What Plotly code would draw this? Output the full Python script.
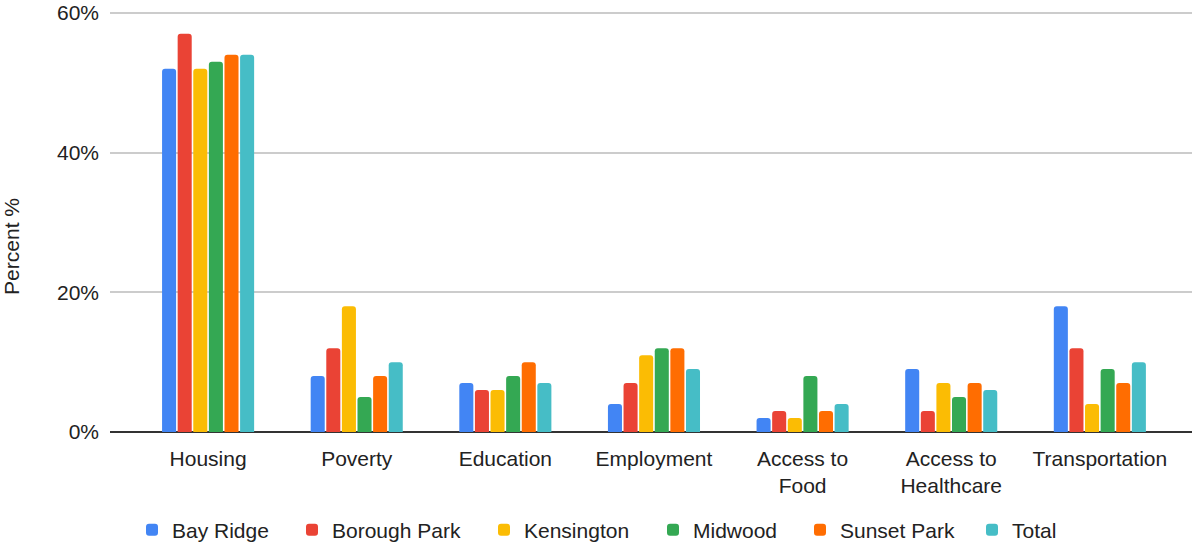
import plotly.graph_objects as go

categories = ["Housing", "Poverty", "Education", "Employment",
              "Access to<br>Food", "Access to<br>Healthcare", "Transportation"]
series_names = ["Bay Ridge", "Borough Park", "Kensington", "Midwood", "Sunset Park", "Total"]
bay_ridge = [52, 8, 7, 4, 2, 9, 18]
borough_park = [57, 12, 6, 7, 3, 3, 12]
kensington = [52, 18, 6, 11, 2, 7, 4]
midwood = [53, 5, 8, 12, 8, 5, 9]
sunset_park = [54, 8, 10, 12, 3, 7, 7]
total = [54, 10, 7, 9, 4, 6, 10]
y_ticks = [0, 20, 40, 60]
y_tick_labels = ["0%", "20%", "40%", "60%"]
y_title = "Percent %"

colors = ["#4285F4", "#EA4335", "#FBBC04", "#34A853", "#FF6D01", "#46BDC6"]
all_values = [bay_ridge, borough_park, kensington, midwood, sunset_park, total]

FONT = "Liberation Sans, Arial, sans-serif"
FS = 21
TXT = "#222222"

W, H = 1196, 546
Y_MAX = 60.4                      # a little headroom so the 60% grid line is drawn
ZERO_PX, SIXTY_PX = 432, 13       # pixel rows of 0% and 60%
px_per_unit = (ZERO_PX - SIXTY_PX) / 60.0
PH = px_per_unit * Y_MAX
MT = ZERO_PX - PH
ML, MR, MB = 110, 4, H - ZERO_PX
PW = W - ML - MR

# legend text start positions in pixels (one legend per series)
legend_text_px = [172, 332, 524, 693, 840, 1012]

fig = go.Figure()
layout_legends = {}
for i, (name, vals, c) in enumerate(zip(series_names, all_values, colors)):
    lname = "legend" if i == 0 else f"legend{i+1}"
    fig.add_trace(go.Bar(
        x=list(range(len(categories))), y=vals, name=name,
        marker=dict(color=c, cornerradius=3, line=dict(width=0)),
        legend=lname,
    ))
    lx = (legend_text_px[i] - 40 - ML) / PW
    layout_legends[lname] = dict(
        orientation="h", x=lx, xanchor="left", y=-(530 - ZERO_PX) / PH, yanchor="middle",
        font=dict(family=FONT, size=FS, color=TXT), bgcolor="rgba(0,0,0,0)",
    )

fig.update_layout(
    width=W, height=H,
    margin=dict(l=ML, r=MR, t=MT, b=MB, autoexpand=False),
    paper_bgcolor="white", plot_bgcolor="white",
    barmode="group", bargap=0.37, bargroupgap=0.1,
    font=dict(family=FONT, size=FS, color=TXT),
    showlegend=True,
    xaxis=dict(
        tickmode="array", tickvals=list(range(len(categories))), ticktext=categories,
        range=[-0.66, 6.62], showgrid=False, zeroline=False, showline=False,
        ticks="", ticklabelstandoff=12, automargin=False,
        tickfont=dict(family=FONT, size=FS, color=TXT),
    ),
    yaxis=dict(
        range=[0, Y_MAX], tickmode="array", tickvals=y_ticks, ticktext=y_tick_labels,
        showgrid=True, gridcolor="#cccccc", gridwidth=1.5,
        zeroline=True, zerolinecolor="#333333", zerolinewidth=1.5,
        showline=False, ticks="", ticklabelstandoff=10, automargin=False,
        tickfont=dict(family=FONT, size=FS, color=TXT),
    ),
    annotations=[dict(
        text=y_title, textangle=-90, showarrow=False,
        xref="paper", yref="paper",
        x=(12 - ML) / PW, y=(ZERO_PX - 247) / PH, xanchor="center", yanchor="middle",
        font=dict(family=FONT, size=FS, color=TXT),
    )],
    **layout_legends,
)

fig.write_html(
    "out.html",
    config={"displayModeBar": False},
    post_script="document.body.style.margin='0';document.body.style.padding='0';"
                "document.body.style.overflow='hidden';",
)
